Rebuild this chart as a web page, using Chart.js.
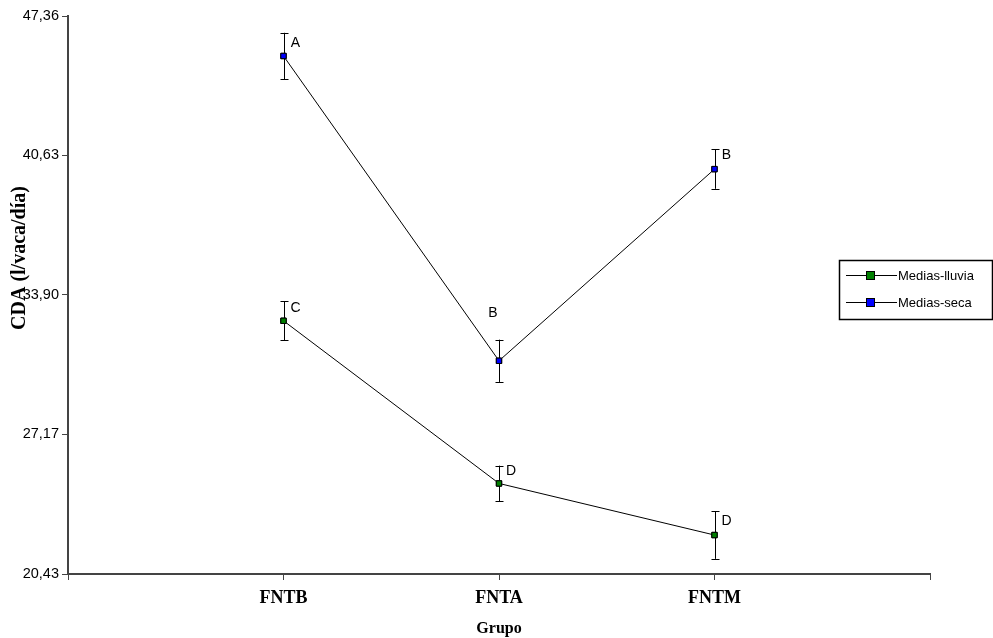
<!DOCTYPE html>
<html>
<head>
<meta charset="utf-8">
<script src="https://cdn.jsdelivr.net/npm/chart.js@4.4.1/dist/chart.umd.min.js"></script>
<style>
html,body{margin:0;padding:0;background:#fff;}
#wrap{width:993px;height:638px;position:relative;}
</style>
</head>
<body>
<div id="wrap"><canvas id="c" width="993" height="638"></canvas></div>
<script>
// ---- data ----
const categories = ['FNTB', 'FNTA', 'FNTM'];
const yTicks = [20.43, 27.17, 33.90, 40.63, 47.36];
const lluviaMeans = [32.65, 24.80, 22.31];
const lluviaErr = [0.94, 0.86, 1.15];
const lluviaLetters = ['C', 'D', 'D'];
const secaMeans = [45.43, 30.72, 39.97];
const secaErr = [1.12, 1.02, 0.95];
const secaLetters = ['A', 'B', 'B'];
const seriesNames = ['Medias-lluvia', 'Medias-seca'];
const yTitle = 'CDA (l/vaca/día)';
const xTitle = 'Grupo';

const errs = [lluviaErr, secaErr];
const letters = [lluviaLetters, secaLetters];
// letter offsets (px) relative to point x / whisker top: [dx, dy]
const letterOffsets = [
  [[12, 7], [12, 6], [12, 10]],
  [[12, 10], [-6, -27], [12, 6]]
];

function pts(arr){ return arr.map((v,i)=>({x:i+1, y:v})); }

const overlay = {
  id: 'overlay',
  afterDatasetsDraw(chart){
    const ctx = chart.ctx;
    const xs = chart.scales.x, ys = chart.scales.y;
    ctx.save();
    // error bars
    chart.data.datasets.forEach((ds, di)=>{
      ds.data.forEach((p, i)=>{
        const x = Math.round(xs.getPixelForValue(p.x)) + 0.5;
        const yt = ys.getPixelForValue(p.y + errs[di][i]);
        const yb = ys.getPixelForValue(p.y - errs[di][i]);
        ctx.strokeStyle = '#000';
        ctx.lineWidth = 1;
        ctx.beginPath();
        ctx.moveTo(x, yt); ctx.lineTo(x, yb);
        ctx.moveTo(x-4, Math.round(yt)+0.5); ctx.lineTo(x+4, Math.round(yt)+0.5);
        ctx.moveTo(x-4, Math.round(yb)+0.5); ctx.lineTo(x+4, Math.round(yb)+0.5);
        ctx.stroke();
        const off = letterOffsets[di][i];
        ctx.fillStyle = '#000';
        ctx.font = '14px "Liberation Sans", Arial, sans-serif';
        ctx.textAlign = 'center';
        ctx.textBaseline = 'middle';
        ctx.fillText(letters[di][i], xs.getPixelForValue(p.x) + off[0], yt + off[1]);
      });
    });
    // redraw points on top of error bars
    chart.data.datasets.forEach((ds, di)=>{
      chart.getDatasetMeta(di).data.forEach(el=>el.draw(ctx));
    });
    // y axis title
    ctx.save();
    ctx.translate(20, 258);
    ctx.rotate(-Math.PI/2);
    ctx.fillStyle = '#000';
    ctx.font = 'bold 20px "Liberation Serif", "Times New Roman", serif';
    ctx.textAlign = 'center';
    ctx.textBaseline = 'middle';
    ctx.fillText(yTitle, 0, 0);
    ctx.restore();
    // legend
    const bx = 839, by = 260, bw = 153, bh = 59;
    ctx.strokeStyle = '#000';
    ctx.lineWidth = 1.5;
    ctx.strokeRect(bx + 0.5, by + 0.5, bw, bh);
    chart.data.datasets.forEach((ds, di)=>{
      const y = by + 15 + di * 27;
      ctx.lineWidth = 1;
      ctx.strokeStyle = '#000';
      ctx.beginPath();
      ctx.moveTo(846, y + 0.5); ctx.lineTo(897, y + 0.5);
      ctx.stroke();
      ctx.fillStyle = ds.pointBackgroundColor;
      ctx.fillRect(866, y - 4, 9, 9);
      ctx.strokeRect(866.5, y - 3.5, 8, 8);
      ctx.fillStyle = '#000';
      ctx.font = '13px "Liberation Sans", Arial, sans-serif';
      ctx.textAlign = 'left';
      ctx.textBaseline = 'middle';
      ctx.fillText(ds.label, 898, y + 1);
    });
    ctx.restore();
  }
};

new Chart(document.getElementById('c'), {
  type: 'line',
  data: {
    datasets: [
      {
        label: seriesNames[0],
        data: pts(lluviaMeans),
        borderColor: '#000', borderWidth: 1,
        pointStyle: 'rect', pointRadius: 3.8,
        pointBackgroundColor: '#008000', pointBorderColor: '#000', pointBorderWidth: 1,
        tension: 0
      },
      {
        label: seriesNames[1],
        data: pts(secaMeans),
        borderColor: '#000', borderWidth: 1,
        pointStyle: 'rect', pointRadius: 3.8,
        pointBackgroundColor: '#0000ff', pointBorderColor: '#000', pointBorderWidth: 1,
        tension: 0
      }
    ]
  },
  options: {
    responsive: false,
    animation: false,
    events: [],
    layout: { padding: { top: 16, right: 63, left: 0, bottom: 0 } },
    plugins: { legend: { display: false }, tooltip: { enabled: false } },
    scales: {
      x: {
        type: 'linear', min: 0, max: 4,
        afterBuildTicks(s){ s.ticks = [0,1,2,3,4].map(v=>({value:v})); },
        afterFit(s){ s.height = 64; },
        border: { display: true, color: '#444', width: 2 },
        grid: { drawOnChartArea: false, drawTicks: true, tickLength: 6, color: '#444', lineWidth: 1 },
        ticks: {
          padding: 8,
          color: '#000',
          maxRotation: 0,
          autoSkip: false,
          font: { family: '"Liberation Serif", "Times New Roman", serif', size: 18, weight: 'bold' },
          callback: (v)=> categories[v-1] || ''
        },
        title: {
          display: true, text: xTitle, color: '#000',
          padding: { top: 0, bottom: 0 },
          font: { family: '"Liberation Serif", "Times New Roman", serif', size: 16, weight: 'bold' }
        }
      },
      y: {
        type: 'linear', min: yTicks[0], max: yTicks[yTicks.length-1],
        afterBuildTicks(s){ s.ticks = yTicks.map(v=>({value:v})); },
        afterFit(s){ s.width = 68; },
        border: { display: true, color: '#444', width: 2 },
        grid: { drawOnChartArea: false, drawTicks: true, tickLength: 6, color: '#444', lineWidth: 1 },
        ticks: {
          padding: 3,
          color: '#000',
          font: { family: '"Liberation Sans", Arial, sans-serif', size: 14.5 },
          callback: (v)=> v.toFixed(2).replace('.', ',')
        },
        title: { display: false }
      }
    }
  },
  plugins: [overlay]
});
</script>
</body>
</html>
